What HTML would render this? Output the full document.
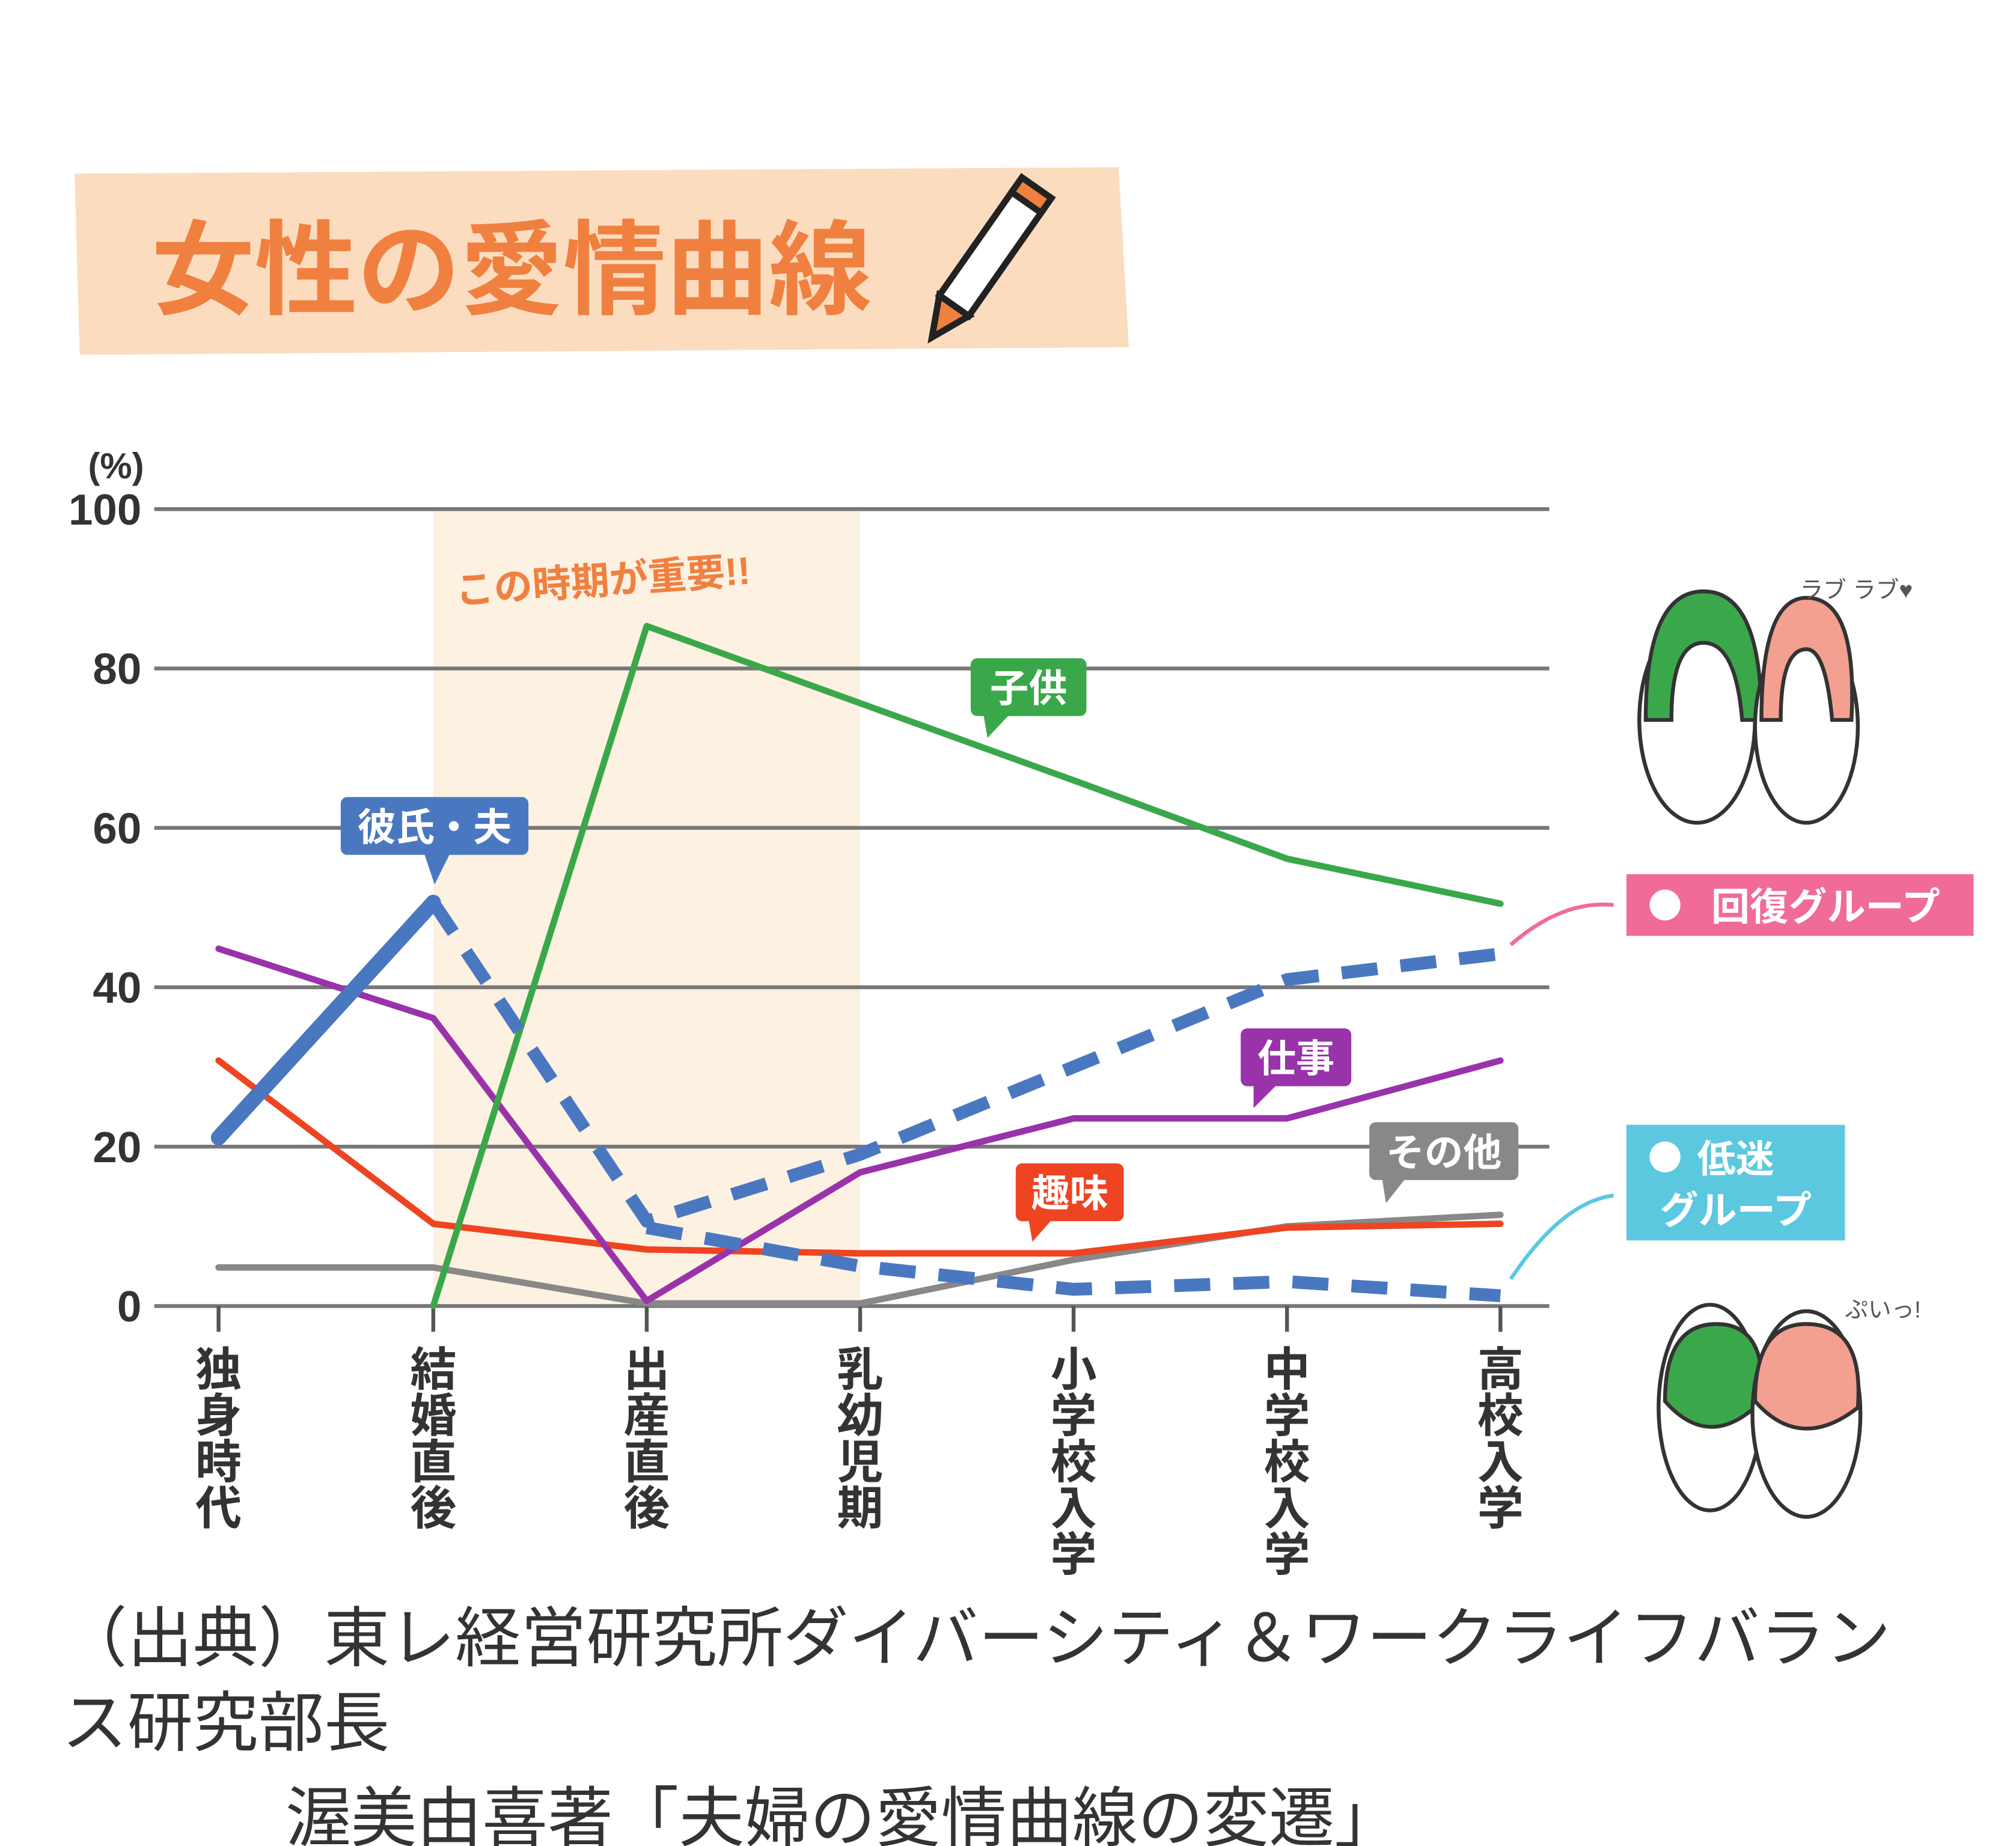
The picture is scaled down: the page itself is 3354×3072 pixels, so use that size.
<!DOCTYPE html>
<html><head><meta charset="utf-8"><style>
html,body{margin:0;padding:0;background:#fff}
svg{display:block}
text{font-family:"Liberation Sans","Noto Sans CJK JP",sans-serif}
</style></head><body>
<svg width="3354" height="3072" viewBox="0 0 1568 1436" xmlns="http://www.w3.org/2000/svg">
<rect width="1568" height="1436" fill="#fff"/>
<path d="M58 135 L870 130 L878 270 L62 276 Z" fill="#fcdcbf"/>
<text x="118" y="238" font-size="80" font-weight="bold" fill="#f08040">女性の愛情曲線</text>
<g transform="translate(765,205) rotate(35)">
<rect x="-14" y="-60" width="28" height="100" fill="#fff" stroke="#222" stroke-width="5"/>
<rect x="-14" y="-72" width="28" height="14" fill="#f08040" stroke="#222" stroke-width="5"/>
<path d="M-14 40 L0 70 L14 40 Z" fill="#f08040" stroke="#222" stroke-width="5"/>
</g>
<rect x="337" y="396" width="332" height="620" fill="#fdf1e2"/>
<g stroke="#777" stroke-width="3">
<line x1="120" y1="396" x2="1205" y2="396"/><line x1="120" y1="520" x2="1205" y2="520"/>
<line x1="120" y1="644" x2="1205" y2="644"/><line x1="120" y1="768" x2="1205" y2="768"/>
<line x1="120" y1="892" x2="1205" y2="892"/><line x1="120" y1="1016" x2="1205" y2="1016"/>
</g>
<g stroke="#555" stroke-width="3">
<line x1="170" y1="1016" x2="170" y2="1036"/><line x1="337" y1="1016" x2="337" y2="1036"/>
<line x1="503" y1="1016" x2="503" y2="1036"/><line x1="669" y1="1016" x2="669" y2="1036"/>
<line x1="835" y1="1016" x2="835" y2="1036"/><line x1="1001" y1="1016" x2="1001" y2="1036"/>
<line x1="1167" y1="1016" x2="1167" y2="1036"/>
</g>
<g font-size="34" font-weight="bold" fill="#333" text-anchor="end">
<text x="112" y="372" font-size="28">(%)</text>
<text x="110" y="408">100</text><text x="110" y="532">80</text><text x="110" y="656">60</text>
<text x="110" y="780">40</text><text x="110" y="904">20</text><text x="110" y="1028">0</text>
</g>
<text x="355" y="470" font-size="30" font-weight="bold" fill="#f08040" transform="rotate(-4 355 470)">この時期が重要!!</text>
<g fill="none" stroke-linejoin="round" stroke-linecap="round">
<polyline points="170,986 337,986 503,1014 669,1014 835,980 1001,954 1167,945" stroke="#888" stroke-width="5"/>
<polyline points="170,825 337,952 503,972 669,975 835,975 1001,955 1167,952" stroke="#ee4422" stroke-width="5"/>
<polyline points="170,738 337,792 503,1012 669,912 835,870 1001,870 1167,825" stroke="#9933aa" stroke-width="5"/>
<polyline points="337,1016 503,487 835,607 1001,668 1167,703" stroke="#3aa84a" stroke-width="5"/>
<polyline points="170,885 337,702" stroke="#4a78c0" stroke-width="12"/>
<polyline points="337,702 503,950 669,898 835,830 1001,762 1167,742" stroke="#4a78c0" stroke-width="10" stroke-dasharray="28,18" stroke-linecap="butt"/>
<polyline points="503,955 669,985 835,1003 1001,997 1167,1008" stroke="#4a78c0" stroke-width="10" stroke-dasharray="28,18" stroke-linecap="butt"/>
</g>
<g font-size="30" font-weight="bold" fill="#fff" text-anchor="middle">
<rect x="265" y="620" width="146" height="45" rx="5" fill="#4a78c0"/><path d="M330 664 L338 688 L350 664Z" fill="#4a78c0"/>
<text x="338" y="654">彼氏・夫</text>
<rect x="755" y="512" width="90" height="45" rx="5" fill="#3aa84a"/><path d="M765 556 L768 574 L785 556Z" fill="#3aa84a"/>
<text x="800" y="546">子供</text>
<rect x="965" y="800" width="86" height="45" rx="5" fill="#9933aa"/><path d="M975 844 L975 862 L993 844Z" fill="#9933aa"/>
<text x="1008" y="834">仕事</text>
<rect x="790" y="905" width="84" height="45" rx="5" fill="#ee4422"/><path d="M800 949 L803 966 L818 949Z" fill="#ee4422"/>
<text x="832" y="939">趣味</text>
<rect x="1065" y="873" width="116" height="45" rx="5" fill="#888"/><path d="M1075 917 L1078 936 L1093 917Z" fill="#888"/>
<text x="1123" y="907">その他</text>
<rect x="1265" y="680" width="270" height="48" fill="#f06a9a"/>
<circle cx="1295" cy="704" r="12" fill="#fff"/>
<text x="1420" y="716" font-size="30">回復グループ</text>
<rect x="1265" y="875" width="170" height="90" fill="#5bc8e0"/>
<circle cx="1295" cy="900" r="12" fill="#fff"/>
<text x="1350" y="912">低迷</text><text x="1350" y="952">グループ</text>
</g>
<path d="M1255 704 Q1215 700 1175 735" fill="none" stroke="#f06a9a" stroke-width="3"/>
<path d="M1255 930 Q1215 935 1175 995" fill="none" stroke="#5bc8e0" stroke-width="3"/>
<g font-size="36" font-weight="bold" fill="#333" text-anchor="middle">
<text x="170" y="1078">独</text><text x="170" y="1114">身</text><text x="170" y="1150">時</text><text x="170" y="1186">代</text>
<text x="337" y="1078">結</text><text x="337" y="1114">婚</text><text x="337" y="1150">直</text><text x="337" y="1186">後</text>
<text x="503" y="1078">出</text><text x="503" y="1114">産</text><text x="503" y="1150">直</text><text x="503" y="1186">後</text>
<text x="669" y="1078">乳</text><text x="669" y="1114">幼</text><text x="669" y="1150">児</text><text x="669" y="1186">期</text>
<text x="835" y="1078">小</text><text x="835" y="1114">学</text><text x="835" y="1150">校</text><text x="835" y="1186">入</text><text x="835" y="1222">学</text>
<text x="1001" y="1078">中</text><text x="1001" y="1114">学</text><text x="1001" y="1150">校</text><text x="1001" y="1186">入</text><text x="1001" y="1222">学</text>
<text x="1167" y="1078">高</text><text x="1167" y="1114">校</text><text x="1167" y="1150">入</text><text x="1167" y="1186">学</text>
</g>
<g stroke="#333" stroke-width="3">
<ellipse cx="1320" cy="560" rx="45" ry="80" fill="#fff"/>
<path d="M1280 560 Q1280 460 1325 460 Q1370 460 1370 560 L1355 560 Q1350 500 1325 500 Q1300 500 1300 560 Z" fill="#3aa84a"/>
<ellipse cx="1405" cy="565" rx="40" ry="75" fill="#fff"/>
<path d="M1370 560 Q1370 465 1405 465 Q1445 465 1440 560 L1425 560 Q1420 505 1405 505 Q1385 505 1385 560 Z" fill="#f4a090"/>
<ellipse cx="1330" cy="1095" rx="40" ry="80" fill="#fff"/>
<path d="M1295 1090 Q1295 1030 1335 1030 Q1375 1030 1370 1090 Q1330 1130 1295 1090 Z" fill="#3aa84a"/>
<ellipse cx="1405" cy="1100" rx="42" ry="80" fill="#fff"/>
<path d="M1365 1090 Q1365 1030 1405 1030 Q1450 1030 1445 1095 Q1400 1130 1365 1090 Z" fill="#f4a090"/>
</g>
<text x="1400" y="465" font-size="18" fill="#555">ラブ ラブ♥</text>
<text x="1435" y="1025" font-size="18" fill="#555">ぷいっ!</text>
<g font-size="51" fill="#333">
<text x="48" y="1292">（出典）東レ経営研究所ダイバーシティ＆ワークライフバラン</text>
<text x="48" y="1358">ス研究部長</text>
<text x="222" y="1432">渥美由喜著「夫婦の愛情曲線の変遷」</text>
</g>
</svg>
</body></html>
